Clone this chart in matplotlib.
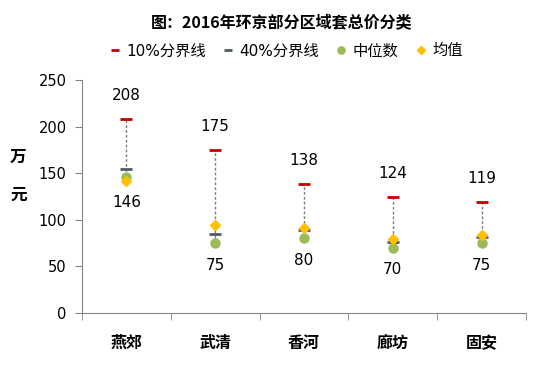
import matplotlib
matplotlib.use('Agg')
from matplotlib import pyplot as plt
import numpy as np

plt.rcParams['font.family'] = ['DejaVu Sans', 'Noto Sans CJK SC']

# data
regions = ['燕郊', '武清', '香河', '廊坊', '固安']
p10 = [208, 175, 138, 124, 119]       # 10%分界线
p40 = [155, 85, 89, 76, 82]           # 40%分界线
median = [146, 75, 80, 70, 75]        # 中位数
mean = [142, 94, 91, 79, 84]          # 均值

# colours
c_red = '#C00000'
c_dark = '#4F5B62'
c_green = '#9BBB59'
c_gold = '#FFC000'
c_axis = '#868686'

fig = plt.figure(figsize=(5.57, 3.73), dpi=100)
fig.set_facecolor('white')
ax = fig.add_axes([0.1472, 0.1609, 0.7971, 0.6246])

x = np.arange(len(regions))
lows = np.minimum(np.minimum(p40, median), mean)

# dotted drop line from 10% to the lowest point
ax.vlines(x, lows, p10, colors='#7F7F7F', linestyles=(0, (2, 1.5)), linewidth=1, zorder=1)

ax.plot(x, p10, linestyle='none', marker='_', markersize=8, mew=2, color=c_red, label='10%分界线', zorder=3)
ax.plot(x, p40, linestyle='none', marker='_', markersize=8, mew=2, color=c_dark, label='40%分界线', zorder=3)
ax.plot(x, median, linestyle='none', marker='o', markersize=6.5, color=c_green, mec=c_green, label='中位数', zorder=3)
ax.plot(x, mean, linestyle='none', marker='D', markersize=5, color=c_gold, mec=c_gold, label='均值', zorder=4)

# value labels
for xi, top, low, med in zip(x, p10, lows, median):
	ax.annotate('%d' % top, (xi, top), xytext=(0, 17), textcoords='offset points',
		ha='center', va='center', fontsize=11)
	ax.annotate('%d' % med, (xi, low), xytext=(0, -16), textcoords='offset points',
		ha='center', va='center', fontsize=11)

ax.set_xlim(-0.5, len(regions) - 0.5)
ax.set_ylim(0, 250)
ax.set_yticks(np.arange(0, 251, 50))
ax.set_xticks(x)
ax.set_xticklabels(regions, fontsize=11.5, fontweight='bold', family=['Noto Sans CJK SC'])
ax.set_xticks(np.arange(-0.5, len(regions)), minor=True)
ax.tick_params(axis='x', which='major', length=0, pad=16)
ax.tick_params(axis='x', which='minor', length=5, color=c_axis, direction='out')
ax.tick_params(axis='y', length=5, color=c_axis, direction='out', labelsize=10.5, pad=6)

for s in ['top', 'right']:
	ax.spines[s].set_visible(False)
for s in ['left', 'bottom']:
	ax.spines[s].set_color(c_axis)

# y-axis unit, one character per line
fig.text(0.033, 1 - 157 / 373., '万', ha='center', va='center', fontsize=12, fontweight='bold',
	family=['Noto Sans CJK SC'])
fig.text(0.033, 1 - 195 / 373., '元', ha='center', va='center', fontsize=12, fontweight='bold',
	family=['Noto Sans CJK SC'])

fig.text(0.505, 1 - 23 / 373., '图：2016年环京部分区域套总价分类', ha='center', va='center',
	fontsize=11.5, fontweight='bold', family=['Noto Sans CJK SC'])

ax.legend(loc='center', bbox_to_anchor=(0.46, 1.125), ncol=4, frameon=False,
	fontsize=11, handlelength=0.7, handletextpad=0.4, columnspacing=1.1, markerscale=0.8)

fig.savefig('out.png', dpi=100)
